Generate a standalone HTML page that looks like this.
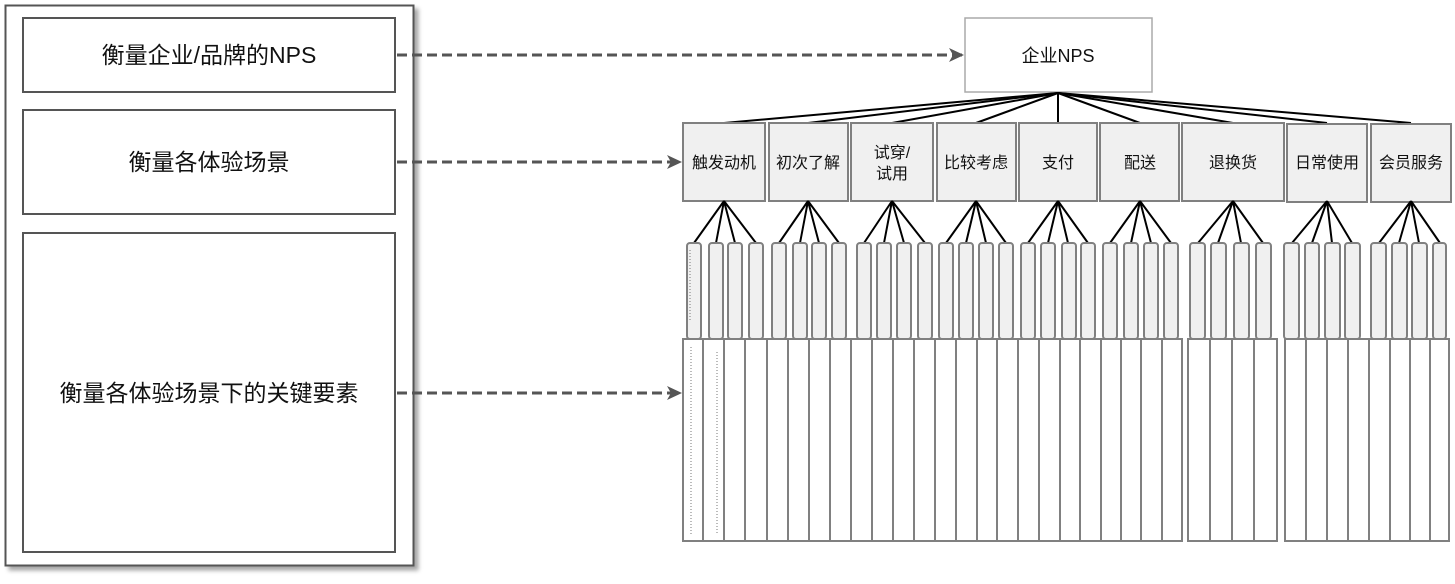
<!DOCTYPE html>
<html><head><meta charset="utf-8"><style>
body{margin:0;background:#fff;width:1455px;height:579px;overflow:hidden}
text{font-family:"Liberation Sans","Noto Sans CJK SC",sans-serif;fill:#111}
</style></head><body>
<svg width="1455" height="579" xmlns="http://www.w3.org/2000/svg">
<defs><filter id="sh" x="-5%" y="-5%" width="115%" height="115%"><feDropShadow dx="4" dy="4" stdDeviation="2" flood-color="#000" flood-opacity="0.35"/></filter>
<marker id="ar" markerWidth="16" markerHeight="14" refX="14" refY="7" orient="auto" markerUnits="userSpaceOnUse"><path d="M0,0 L15,7 L0,14 L4,7 Z" fill="#555"/></marker></defs>
<rect x="5.5" y="5.5" width="408" height="560" fill="#fff" stroke="#555" stroke-width="2" filter="url(#sh)"/>
<g fill="#fff" stroke="#555" stroke-width="2">
<rect x="23" y="18" width="372" height="74"/>
<rect x="23" y="110" width="372" height="104"/>
<rect x="23" y="233" width="372" height="319"/>
</g>
<g font-size="23" text-anchor="middle">
<text x="209" y="63">衡量企业/品牌的NPS</text>
<text x="209" y="170">衡量各体验场景</text>
<text x="209" y="401">衡量各体验场景下的关键要素</text>
</g>
<g stroke="#555" stroke-width="3" stroke-dasharray="10,5" fill="none">
<line x1="397" y1="55" x2="963" y2="55" marker-end="url(#ar)"/>
<line x1="397" y1="162" x2="681" y2="162" marker-end="url(#ar)"/>
<line x1="397" y1="393" x2="681" y2="393" marker-end="url(#ar)"/>
</g>
<rect x="965" y="18" width="187" height="74" fill="#fff" stroke="#aaa" stroke-width="1.5"/>
<text x="1058" y="62" font-size="18" text-anchor="middle">企业NPS</text>
<g stroke="#000" stroke-width="2">
<line x1="1058" y1="93" x2="724" y2="123"/><line x1="1058" y1="93" x2="808" y2="123"/><line x1="1058" y1="93" x2="892" y2="123"/><line x1="1058" y1="93" x2="976" y2="123"/><line x1="1058" y1="93" x2="1058" y2="123"/><line x1="1058" y1="93" x2="1140" y2="123"/><line x1="1058" y1="93" x2="1233" y2="123"/><line x1="1058" y1="93" x2="1327" y2="123"/><line x1="1058" y1="93" x2="1411" y2="123"/>
</g>
<g fill="#f0f0f0" stroke="#808080" stroke-width="2">
<rect x="683" y="123" width="82" height="78"/><rect x="769" y="123" width="79" height="78"/><rect x="851" y="123" width="82" height="78"/><rect x="937" y="123" width="79" height="78"/><rect x="1019" y="123" width="78" height="78"/><rect x="1100" y="123" width="79" height="78"/><rect x="1182" y="123" width="102" height="78"/><rect x="1287" y="124" width="80" height="78"/><rect x="1371" y="124" width="80" height="78"/>
</g>
<g font-size="16" text-anchor="middle">
<text x="724" y="168">触发动机</text><text x="808" y="168">初次了解</text><text x="892" y="158">试穿/</text><text x="892" y="179">试用</text><text x="976" y="168">比较考虑</text><text x="1058" y="168">支付</text><text x="1140" y="168">配送</text><text x="1233" y="168">退换货</text><text x="1327" y="168">日常使用</text><text x="1411" y="168">会员服务</text>
</g>
<g stroke="#000" stroke-width="2">
<path d="M724 201L694 243M724 201L716 243M724 201L735 243M724 201L756 243"/>
<path d="M808 201L779 243M808 201L800 243M808 201L819 243M808 201L839 243"/>
<path d="M892 201L864 243M892 201L884 243M892 201L904 243M892 201L925 243"/>
<path d="M976 201L946 243M976 201L966 243M976 201L986 243M976 201L1006 243"/>
<path d="M1058 201L1028 243M1058 201L1048 243M1058 201L1068 243M1058 201L1088 243"/>
<path d="M1140 201L1110 243M1140 201L1131 243M1140 201L1151 243M1140 201L1171 243"/>
<path d="M1233 201L1198 243M1233 201L1218 243M1233 201L1241 243M1233 201L1263 243"/>
<path d="M1327 201L1292 243M1327 201L1312 243M1327 201L1332 243M1327 201L1352 243"/>
<path d="M1411 201L1379 243M1411 201L1399 243M1411 201L1419 243M1411 201L1440 243"/>
</g>
<g fill="#f0f0f0" stroke="#808080" stroke-width="2">
<rect x="687" y="243" width="14" height="96" rx="3"/><rect x="709" y="243" width="14" height="96" rx="3"/><rect x="728" y="243" width="14" height="96" rx="3"/><rect x="749" y="243" width="14" height="96" rx="3"/>
<rect x="772" y="243" width="14" height="96" rx="3"/><rect x="793" y="243" width="14" height="96" rx="3"/><rect x="812" y="243" width="14" height="96" rx="3"/><rect x="832" y="243" width="14" height="96" rx="3"/>
<rect x="857" y="243" width="14" height="96" rx="3"/><rect x="877" y="243" width="14" height="96" rx="3"/><rect x="897" y="243" width="14" height="96" rx="3"/><rect x="918" y="243" width="14" height="96" rx="3"/>
<rect x="939" y="243" width="14" height="96" rx="3"/><rect x="959" y="243" width="14" height="96" rx="3"/><rect x="979" y="243" width="14" height="96" rx="3"/><rect x="999" y="243" width="14" height="96" rx="3"/>
<rect x="1021" y="243" width="14" height="96" rx="3"/><rect x="1041" y="243" width="14" height="96" rx="3"/><rect x="1062" y="243" width="14" height="96" rx="3"/><rect x="1081" y="243" width="14" height="96" rx="3"/>
<rect x="1103" y="243" width="14" height="96" rx="3"/><rect x="1124" y="243" width="14" height="96" rx="3"/><rect x="1144" y="243" width="14" height="96" rx="3"/><rect x="1164" y="243" width="14" height="96" rx="3"/>
<rect x="1190" y="243" width="15" height="96" rx="3"/><rect x="1211" y="243" width="15" height="96" rx="3"/><rect x="1234" y="243" width="15" height="96" rx="3"/><rect x="1256" y="243" width="15" height="96" rx="3"/>
<rect x="1284" y="243" width="15" height="96" rx="3"/><rect x="1305" y="243" width="14" height="96" rx="3"/><rect x="1325" y="243" width="15" height="96" rx="3"/><rect x="1345" y="243" width="15" height="96" rx="3"/>
<rect x="1371" y="243" width="15" height="96" rx="3"/><rect x="1392" y="243" width="15" height="96" rx="3"/><rect x="1412" y="243" width="15" height="96" rx="3"/><rect x="1433" y="243" width="13" height="96" rx="3"/>
</g>
<g fill="#fff" stroke="#808080" stroke-width="2">
<rect x="683" y="339" width="20" height="202"/><rect x="703" y="339" width="21" height="202"/><rect x="724" y="339" width="21" height="202"/><rect x="745" y="339" width="22" height="202"/><rect x="767" y="339" width="21" height="202"/><rect x="788" y="339" width="21" height="202"/><rect x="809" y="339" width="21" height="202"/><rect x="830" y="339" width="21" height="202"/><rect x="851" y="339" width="21" height="202"/><rect x="872" y="339" width="21" height="202"/><rect x="893" y="339" width="21" height="202"/><rect x="914" y="339" width="21" height="202"/><rect x="935" y="339" width="21" height="202"/><rect x="956" y="339" width="21" height="202"/><rect x="977" y="339" width="20" height="202"/><rect x="997" y="339" width="21" height="202"/><rect x="1018" y="339" width="21" height="202"/><rect x="1039" y="339" width="21" height="202"/><rect x="1060" y="339" width="20" height="202"/><rect x="1080" y="339" width="21" height="202"/><rect x="1101" y="339" width="20" height="202"/><rect x="1121" y="339" width="20" height="202"/><rect x="1141" y="339" width="21" height="202"/><rect x="1162" y="339" width="20" height="202"/>
<rect x="1188" y="339" width="22" height="202"/><rect x="1210" y="339" width="22" height="202"/><rect x="1232" y="339" width="22" height="202"/><rect x="1254" y="339" width="23" height="202"/>
<rect x="1285" y="339" width="21" height="202"/><rect x="1306" y="339" width="21" height="202"/><rect x="1327" y="339" width="21" height="202"/><rect x="1348" y="339" width="21" height="202"/><rect x="1369" y="339" width="21" height="202"/><rect x="1390" y="339" width="20" height="202"/><rect x="1410" y="339" width="20" height="202"/><rect x="1430" y="339" width="19" height="202"/>
</g>
<g stroke="#777" stroke-width="1" stroke-dasharray="1,2">
<line x1="691" y1="347" x2="691" y2="535"/><line x1="717" y1="352" x2="717" y2="535"/><line x1="690" y1="250" x2="690" y2="320"/>
</g>
</svg>
</body></html>
